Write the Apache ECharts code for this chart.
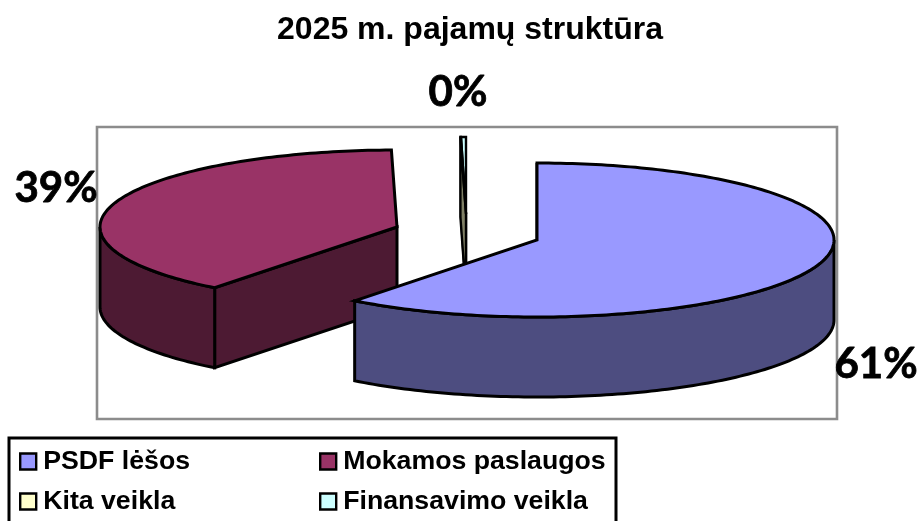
<!DOCTYPE html>
<html>
<head>
<meta charset="utf-8">
<style>html,body{margin:0;padding:0;background:#fff}#c{width:920px;height:521px}</style>
<script src="https://cdn.jsdelivr.net/npm/echarts@6/dist/echarts.min.js"></script>
</head>
<body>
<div id="c"></div>
<script>
const titleText = '2025 m. pajamų struktūra';
const categories = ['PSDF lėšos', 'Mokamos paslaugos', 'Kita veikla', 'Finansavimo veikla'];
const shares = [60.52, 39.18, 0.03, 0.27];

const topColors = ['#9999FF', '#993366', '#FFFFCC', '#CCFFFF'];
const sideColors = ['#4D4D80', '#4D1A33', '#808066', '#668080'];
const centers = [[537, 240], [397, 227], [466, 214], [466, 214]];
const labelAt = [[876, 364], [56, 188], [458, 92], null];
const strokes = [3, 3, 2.4, 2.4];
const RX = 297, RY = 77, DEPTH = 80;

const total = shares.reduce((a, b) => a + b, 0);
const starts = [];
shares.reduce((acc, v, i) => { starts[i] = acc; return acc + v; }, 0);
const rad = v => v / total * Math.PI * 2;

function pt(c, a, dy) {
  return [c[0] + RX * Math.sin(a), c[1] - RY * Math.cos(a) + (dy || 0)];
}
function arc(c, a0, a1, dy) {
  const n = Math.max(2, Math.ceil((a1 - a0) / 0.02));
  const out = [];
  for (let i = 0; i <= n; i++) out.push(pt(c, a0 + (a1 - a0) * i / n, dy));
  return out;
}
function makeRender(i) {
  const poly = (points, fill) => ({ type: 'polygon', shape: { points },
    style: { fill, stroke: '#000', lineWidth: strokes[i], lineJoin: 'miter' } });
  return function (params, api) {
    const a0 = rad(starts[i]);
    const a1 = a0 + rad(api.value(0));
    const c = centers[i];
    const side = sideColors[i];
    const kids = [];
    const e = pt(c, a0);
    kids.push(poly([c, e, [e[0], e[1] + DEPTH], [c[0], c[1] + DEPTH]], side));
    const w0 = Math.max(a0, Math.PI / 2), w1 = Math.min(a1, Math.PI * 1.5);
    if (w1 > w0) {
      kids.push(poly(arc(c, w0, w1).concat(arc(c, w0, w1, DEPTH).reverse()), side));
    }
    kids.push(poly([c].concat(arc(c, a0, a1)), topColors[i]));
    if (labelAt[i]) {
      kids.push({ type: 'text', z2: 10, style: {
        x: labelAt[i][0], y: labelAt[i][1],
        text: Math.round(api.value(0) / total * 100) + '%',
        font: 'bold 42px Lato', fill: '#000', stroke: '#000', lineWidth: 0.8,
        align: 'center', verticalAlign: 'middle' } });
    }
    return { type: 'group', children: kids };
  };
}
const drawOrder = [3, 2, 1, 0];
const legendBase = {
  orient: 'vertical', itemWidth: 16, itemHeight: 16, itemGap: 13,
  icon: 'rect',
  itemStyle: { borderColor: '#000', borderWidth: 2.4 },
  textStyle: { fontFamily: 'Liberation Sans', fontWeight: 'bold', fontSize: 26.7, color: '#000', padding: [0, 0, 0, 2] },
  selectedMode: false, padding: 0
};
const chart = echarts.init(document.getElementById('c'), null, { renderer: 'canvas' });
chart.setOption({
  animation: false,
  backgroundColor: '#fff',
  title: { text: titleText, left: 470, top: 14, textAlign: 'center', padding: 0,
    textStyle: { fontFamily: 'Liberation Sans', fontWeight: 'bold', fontSize: 32, color: '#000' } },
  legend: [
    Object.assign({}, legendBase, { left: 19, top: 448, data: [categories[0], categories[2]] }),
    Object.assign({}, legendBase, { left: 319, top: 448, data: [categories[1], categories[3]] })
  ],
  graphic: [
    { type: 'rect', z: -1, silent: true, shape: { x: 97, y: 127, width: 740, height: 292 },
      style: { fill: 'none', stroke: '#8c8c8c', lineWidth: 2.6 } },
    { type: 'rect', z: -1, silent: true, shape: { x: 9, y: 438, width: 607, height: 120 },
      style: { fill: 'none', stroke: '#000', lineWidth: 3 } }
  ],
  series: drawOrder.map(i => ({
    type: 'custom', coordinateSystem: 'none', name: categories[i], silent: true,
    itemStyle: { color: topColors[i] },
    renderItem: makeRender(i),
    data: [[shares[i]]]
  }))
});
</script>
</body>
</html>
